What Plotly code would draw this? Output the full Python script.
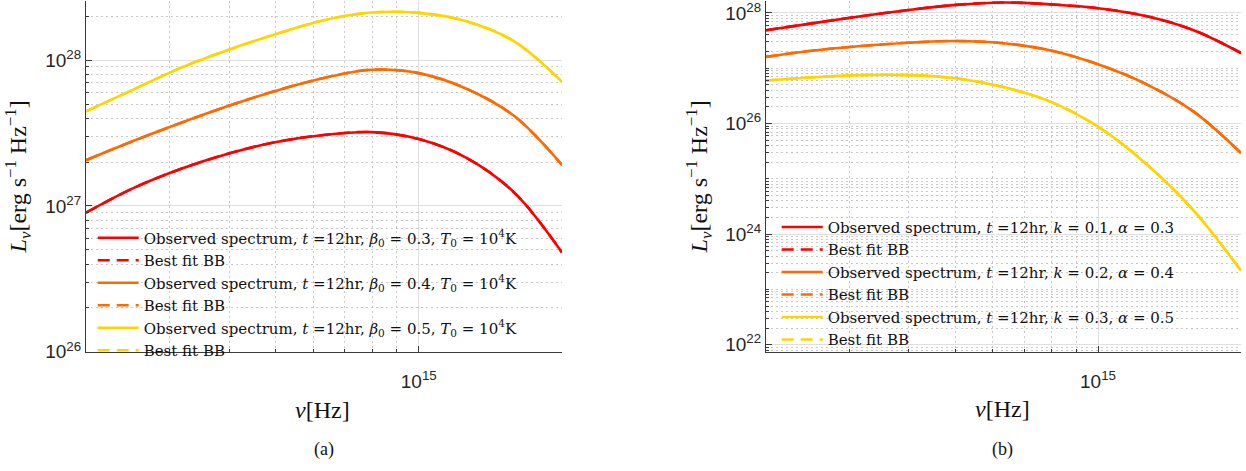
import plotly.graph_objects as go

# ---------------- data ----------------
nu = [2.0e14, 2.52e14, 3.17e14, 3.99e14, 5.02e14, 6.32e14, 7.96e14,
      1.0e15, 1.26e15, 1.59e15, 2.0e15]

# panel (a): beta0 = 0.3, 0.4, 0.5 ; T0 = 1e4 K
a_red = [9.00e26, 1.33e27, 1.80e27, 2.29e27, 2.75e27, 3.07e27, 3.21e27,
         2.88e27, 2.14e27, 1.23e27, 4.79e26]
a_orange = [2.06e27, 2.80e27, 3.72e27, 4.86e27, 6.18e27, 7.55e27, 8.60e27,
            8.15e27, 6.37e27, 4.12e27, 1.91e27]
a_yellow = [4.45e27, 6.31e27, 8.89e27, 1.18e28, 1.51e28, 1.88e28, 2.12e28,
            2.11e28, 1.85e28, 1.34e28, 7.10e27]

# panel (b): k = 0.1, 0.2, 0.3 ; alpha = 0.3, 0.4, 0.5
b_red = [4.88e27, 6.56e27, 8.71e27, 1.13e28, 1.40e28, 1.55e28, 1.43e28,
         1.22e28, 8.79e27, 4.88e27, 1.89e27]
b_orange = [1.61e27, 2.10e27, 2.53e27, 2.90e27, 3.12e27, 2.84e27, 2.10e27,
            1.18e27, 5.22e26, 1.64e26, 2.93e25]
b_yellow = [5.98e26, 6.87e26, 7.53e26, 7.53e26, 6.59e26, 4.57e26, 2.47e26,
            8.77e25, 1.90e25, 2.67e24, 2.18e23]

a_labels = ["Observed spectrum, <i>t</i> =12hr, <i>β</i><sub>0</sub> = 0.3, <i>T</i><sub>0</sub> = 10<sup>4</sup>K",
            "Observed spectrum, <i>t</i> =12hr, <i>β</i><sub>0</sub> = 0.4, <i>T</i><sub>0</sub> = 10<sup>4</sup>K",
            "Observed spectrum, <i>t</i> =12hr, <i>β</i><sub>0</sub> = 0.5, <i>T</i><sub>0</sub> = 10<sup>4</sup>K"]
b_labels = ["Observed spectrum, <i>t</i> =12hr, <i>k</i> = 0.1, <i>α</i> = 0.3",
            "Observed spectrum, <i>t</i> =12hr, <i>k</i> = 0.2, <i>α</i> = 0.4",
            "Observed spectrum, <i>t</i> =12hr, <i>k</i> = 0.3, <i>α</i> = 0.5"]
fit_label = "Best fit BB"

x_ticks = [1e15]
x_ticktext = ["10<sup>15</sup>"]
a_yticks = [1e26, 1e27, 1e28]
a_yticktext = ["10<sup>26</sup>", "10<sup>27</sup>", "10<sup>28</sup>"]
b_yticks = [1e22, 1e24, 1e26, 1e28]
b_yticktext = ["10<sup>22</sup>", "10<sup>24</sup>", "10<sup>26</sup>", "10<sup>28</sup>"]

colors = ["#ff0000", "#ff6a00", "#ffd500"]

# ---------------- figure ----------------
W, H = 1246, 471
fig = go.Figure()

def add_panel(series, labels, xa, ya, leg):
    for vals, lab, col in zip(series, labels, colors):
        fig.add_trace(go.Scatter(x=nu, y=vals, mode="lines", name=lab,
                                 line=dict(color=col, width=2.6, shape="spline"),
                                 xaxis=xa, yaxis=ya, legend=leg))
        fig.add_trace(go.Scatter(x=nu, y=vals, mode="lines", name=fit_label,
                                 line=dict(color=col, width=2.6, shape="spline", dash="12px,7px"),
                                 xaxis=xa, yaxis=ya, legend=leg))

add_panel([a_red, a_orange, a_yellow], a_labels, "x", "y", "legend")
add_panel([b_red, b_orange, b_yellow], b_labels, "x2", "y2", "legend2")

def minor_vals(d0, d1):
    return [k * 10.0 ** d for d in range(d0, d1 + 1) for k in range(1, 10)]

axis_line = "#3a3a3a"
tickfont = dict(family="Liberation Sans, Arial", size=19, color="#262626")
common = dict(type="log", showline=True, linecolor=axis_line, linewidth=1.2,
              ticks="inside", ticklen=6, tickwidth=1, tickcolor=axis_line,
              showgrid=True, gridcolor="#e0e0e0", gridwidth=1, zeroline=False,
              tickfont=tickfont, tickmode="array", ticklabeloverflow="allow")

def minor(d0, d1):
    return dict(tickvals=minor_vals(d0, d1), ticks="inside", ticklen=3, tickcolor=axis_line,
                showgrid=True, griddash="2px,3px", gridcolor="#c9c9c9", gridwidth=1)

ydom = [(H - 360) / H, 1.0]
fig.update_layout(
    width=W, height=H, margin=dict(l=0, r=0, t=0, b=0),
    paper_bgcolor="white", plot_bgcolor="white", showlegend=True,
    xaxis=dict(domain=[86 / W, 562 / W], anchor="y", range=[14.30103, 15.30103],
               tickvals=x_ticks, ticktext=x_ticktext, minor=minor(14, 15),
               ticklabelstandoff=12, **common),
    yaxis=dict(domain=ydom, anchor="x", range=[26.0, 28.4056],
               tickvals=a_yticks, ticktext=a_yticktext, minor=minor(25, 28), **common),
    xaxis2=dict(domain=[766 / W, 1241 / W], anchor="y2", range=[14.30103, 15.30103],
                tickvals=x_ticks, ticktext=x_ticktext, minor=minor(14, 15),
                ticklabelstandoff=12, **common),
    yaxis2=dict(domain=ydom, anchor="x2", range=[21.871, 28.2168],
                tickvals=b_yticks, ticktext=b_yticktext, minor=minor(21, 28), **common),
    legend=dict(x=92.7 / W, y=1 - 226.3 / H, xanchor="left", yanchor="top",
                bgcolor="rgba(0,0,0,0)", borderwidth=0, itemwidth=41,
                font=dict(family="DejaVu Serif", size=15, color="#111111")),
    legend2=dict(x=776.7 / W, y=1 - 215.2 / H, xanchor="left", yanchor="top",
                 bgcolor="rgba(0,0,0,0)", borderwidth=0, itemwidth=41,
                 font=dict(family="DejaVu Serif", size=15, color="#111111")),
)

serif = "Liberation Serif, Times New Roman, serif"
ytitle = "<i>L</i><sub><i>ν</i></sub>[erg s<sup>−1</sup> Hz<sup>−1</sup>]"
xtitle = "<i>ν</i>[Hz]"
ann = [
    dict(x=18 / W, y=1 - 181 / H, text=ytitle, textangle=-90, font=dict(family=serif, size=24, color="#111111")),
    dict(x=699 / W, y=1 - 181 / H, text=ytitle, textangle=-90, font=dict(family=serif, size=24, color="#111111")),
    dict(x=322 / W, y=1 - 420 / H, text=xtitle, font=dict(family=serif, size=24, color="#111111")),
    dict(x=1002 / W, y=1 - 419 / H, text=xtitle, font=dict(family=serif, size=24, color="#111111")),
    dict(x=324 / W, y=1 - 460 / H, text="(a)", font=dict(family=serif, size=18, color="#111111")),
    dict(x=1003 / W, y=1 - 460 / H, text="(b)", font=dict(family=serif, size=18, color="#111111")),
]
for a in ann:
    a.update(xref="paper", yref="paper", showarrow=False, xanchor="center", yanchor="middle")
fig.update_layout(annotations=ann)

fig.write_html("out.html", config={"displayModeBar": False},
               post_script="document.body.style.margin='0px';document.body.style.overflow='hidden';")
